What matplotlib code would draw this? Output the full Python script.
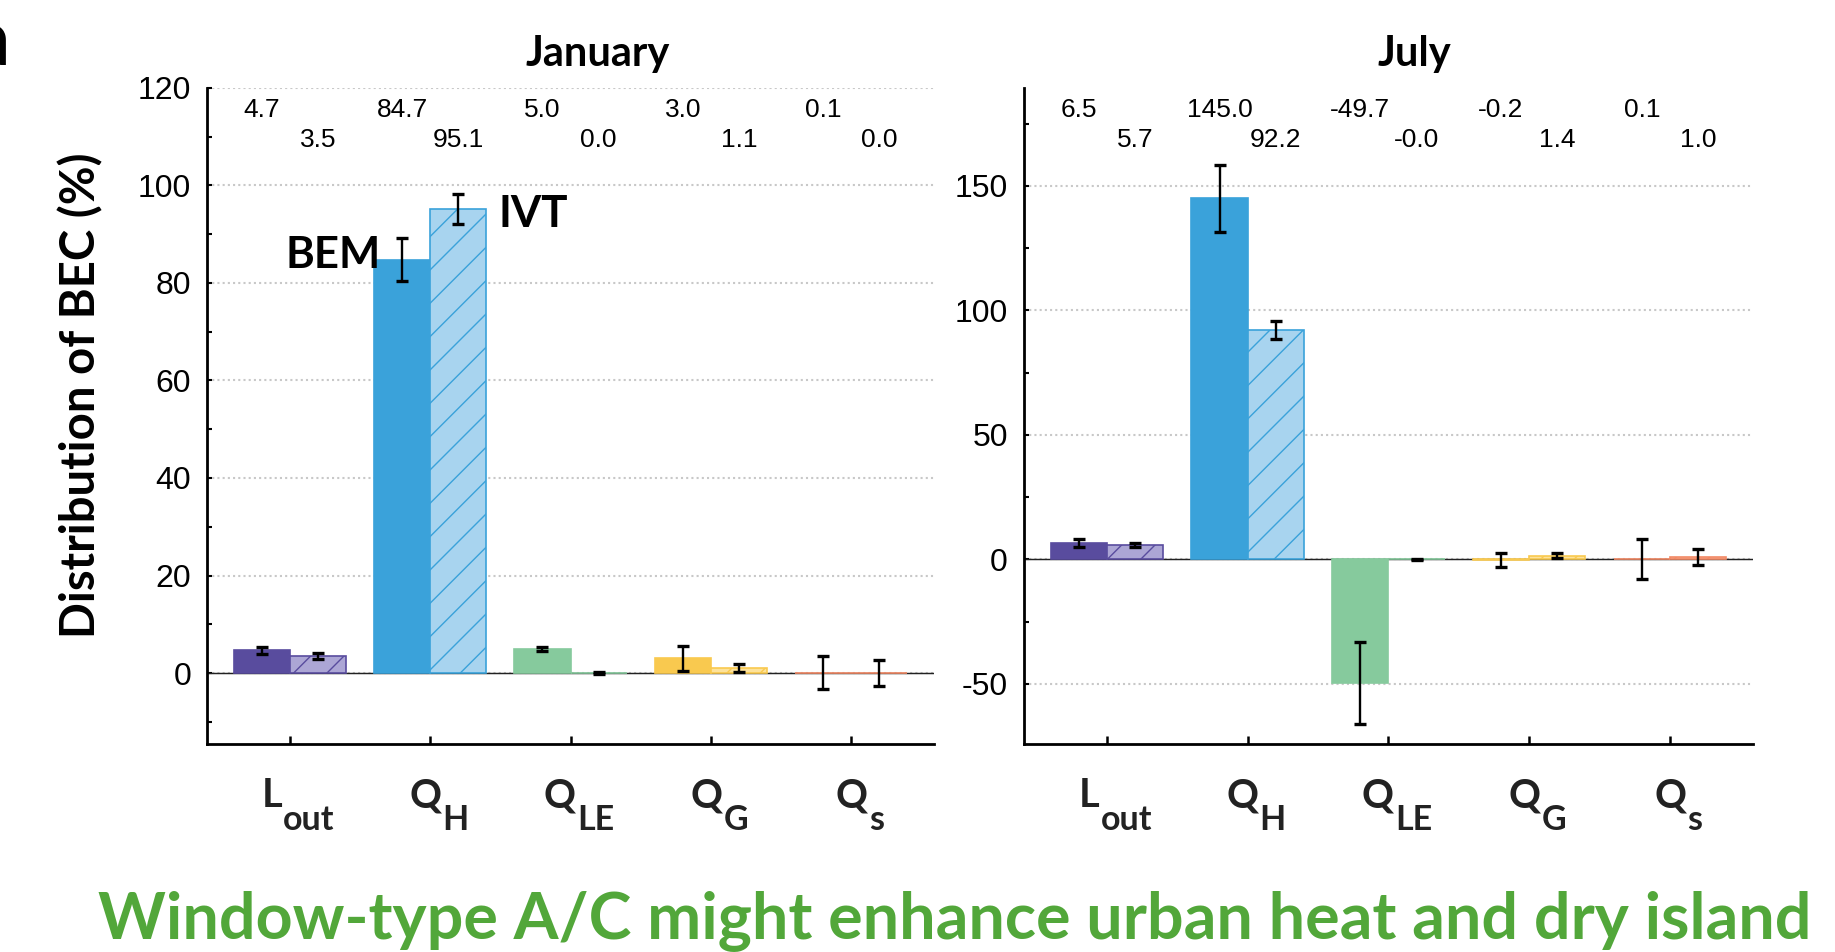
import matplotlib
matplotlib.use("Agg")
import matplotlib.pyplot as plt
from matplotlib.transforms import blended_transform_factory, offset_copy
from matplotlib.ticker import MultipleLocator

# data
cat_main = ["L", "Q", "Q", "Q", "Q"]
cat_sub = ["out", "H", "LE", "G", "s"]

jan_bem = [4.7, 84.7, 5.0, 3.0, 0.1]
jan_ivt = [3.5, 95.1, 0.0, 1.1, 0.0]
jan_bem_err = [0.7, 4.4, 0.4, 2.5, 3.3]
jan_ivt_err = [0.6, 3.1, 0.2, 0.8, 2.7]

jul_bem = [6.5, 145.0, -49.7, -0.2, 0.1]
jul_ivt = [5.7, 92.2, -0.0, 1.4, 1.0]
jul_bem_err = [1.6, 13.4, 16.6, 2.9, 8.2]
jul_ivt_err = [0.8, 3.7, 0.3, 1.0, 3.1]

bem_colors = ["#594c9e", "#3aa2da", "#86ca9d", "#f9c94f", "#f28a66"]
ivt_colors = ["#aca6d5", "#a8d4ef", "#a9dcbb", "#fde29b", "#f7b49c"]

DPI = 100
plt.rcParams["hatch.linewidth"] = 1.0
plt.rcParams["axes.unicode_minus"] = False
plt.rcParams["font.family"] = ["Liberation Sans", "DejaVu Sans"]
BOLD = ["Lato", "DejaVu Sans"]

fig = plt.figure(figsize=(1835 / DPI, 952 / DPI), dpi=DPI)
ax1 = fig.add_axes([0.1128, 0.2182, 0.3962, 0.6896])
ax2 = fig.add_axes([0.5580, 0.2182, 0.3973, 0.6896])

x = [1, 2, 3, 4, 5]


def draw_panel(ax, bem, ivt, bem_err, ivt_err, ylim, ticks, minor):
    xb = [i - 0.2 for i in x]
    xi = [i + 0.2 for i in x]
    ax.bar(xb, bem, width=0.4, color=bem_colors, edgecolor=bem_colors,
           linewidth=1.2, zorder=2)
    ax.bar(xi, ivt, width=0.4, color=ivt_colors, edgecolor=bem_colors,
           linewidth=1.2, hatch="/", zorder=2)
    ax.errorbar(xb, bem, yerr=bem_err, fmt="none", ecolor="black",
                elinewidth=1.7, capsize=4.3, capthick=2.4, zorder=3)
    ax.errorbar(xi, ivt, yerr=ivt_err, fmt="none", ecolor="black",
                elinewidth=1.7, capsize=4.3, capthick=2.4, zorder=3)
    ax.axhline(0, color="#222222", linewidth=1.05, zorder=1)

    ax.set_xlim(0.41, 5.59)
    ax.set_ylim(*ylim)
    ax.set_yticks(ticks)
    ax.yaxis.set_minor_locator(MultipleLocator(minor))
    ax.set_xticks(x)
    ax.set_xticklabels([])
    ax.grid(axis="y", which="major", linestyle=(0, (1, 1.5)),
            color="#c8c8c8", linewidth=1.5, zorder=0)
    ax.set_axisbelow(True)
    for s in ["top", "right"]:
        ax.spines[s].set_visible(False)
    for s in ["left", "bottom"]:
        ax.spines[s].set_linewidth(2.0)
    ax.tick_params(axis="y", which="both", direction="in", length=3.8,
                   width=1.5, labelsize=23, pad=11.5)
    ax.tick_params(axis="x", direction="in", length=6, width=1.8)

    tr = blended_transform_factory(ax.transData, ax.transAxes)
    for i in range(5):
        ax.text(xb[i], 0.956, f"{bem[i]:.1f}", transform=tr, ha="center",
                va="baseline", fontsize=19)
        ax.text(xi[i], 0.910, f"{ivt[i]:.1f}", transform=tr, ha="center",
                va="baseline", fontsize=19)


draw_panel(ax1, jan_bem, jan_ivt, jan_bem_err, jan_ivt_err, (-14.6, 120),
           [0, 20, 40, 60, 80, 100, 120], 10)
draw_panel(ax2, jul_bem, jul_ivt, jul_bem_err, jul_ivt_err, (-74.3, 189.4),
           [-50, 0, 50, 100, 150], 25)

ax1.text(1.65, 83.0, "BEM", ha="right", va="baseline", fontsize=31.5,
         fontweight="bold", family=BOLD)
ax1.text(2.49, 91.5, "IVT", ha="left", va="baseline", fontsize=31.5,
         fontweight="bold", family=BOLD)

fig.text(598 / 1835, 1 - 66 / 952, "January", ha="center", va="baseline",
         fontsize=30, fontweight="bold", family=BOLD)
fig.text(1414 / 1835, 1 - 66 / 952, "July", ha="center", va="baseline",
         fontsize=30, fontweight="bold", family=BOLD)

fig.text(81 / 1835, 1 - 395 / 952, "Distribution of BEC (%)", rotation=90,
         ha="center", va="center", fontsize=34, fontweight="bold", family=BOLD)

# panel letter, cut by the left edge as in the source
fig.text(10 / 1835, 1 - 65 / 952, "a", ha="right", va="baseline",
         fontsize=57, fontweight="bold", family=BOLD)

fig.text(955 / 1835, 1 - 939 / 952,
         "Window-type A/C might enhance urban heat and dry island",
         ha="center", va="baseline", fontsize=46.5, fontweight="bold",
         family=BOLD, color="#52a73a")

# category labels: letter + big subscript, centred on each tick
fig.canvas.draw()
renderer = fig.canvas.get_renderer()


def text_width(s, size):
    t = fig.text(0, 0, s, fontsize=size, fontweight="bold", family=BOLD)
    w = t.get_window_extent(renderer).width
    t.remove()
    return w


for ax in (ax1, ax2):
    tr = blended_transform_factory(ax.transData, ax.transAxes)
    for i in range(5):
        w1 = text_width(cat_main[i], 28.5)
        w2 = text_width(cat_sub[i], 24.5)
        start = -(w1 + w2) / 2 + 8
        ax.text(x[i], 0, cat_main[i], fontsize=28.5, fontweight="bold",
                family=BOLD, ha="left", va="baseline", color="#222222",
                transform=offset_copy(tr, fig=fig, x=start, y=-63, units="dots"))
        ax.text(x[i], 0, cat_sub[i], fontsize=24.5, fontweight="bold",
                family=BOLD, ha="left", va="baseline", color="#222222",
                transform=offset_copy(tr, fig=fig, x=start + w1 + 1, y=-86,
                                      units="dots"))

fig.savefig("out.png", dpi=DPI)
